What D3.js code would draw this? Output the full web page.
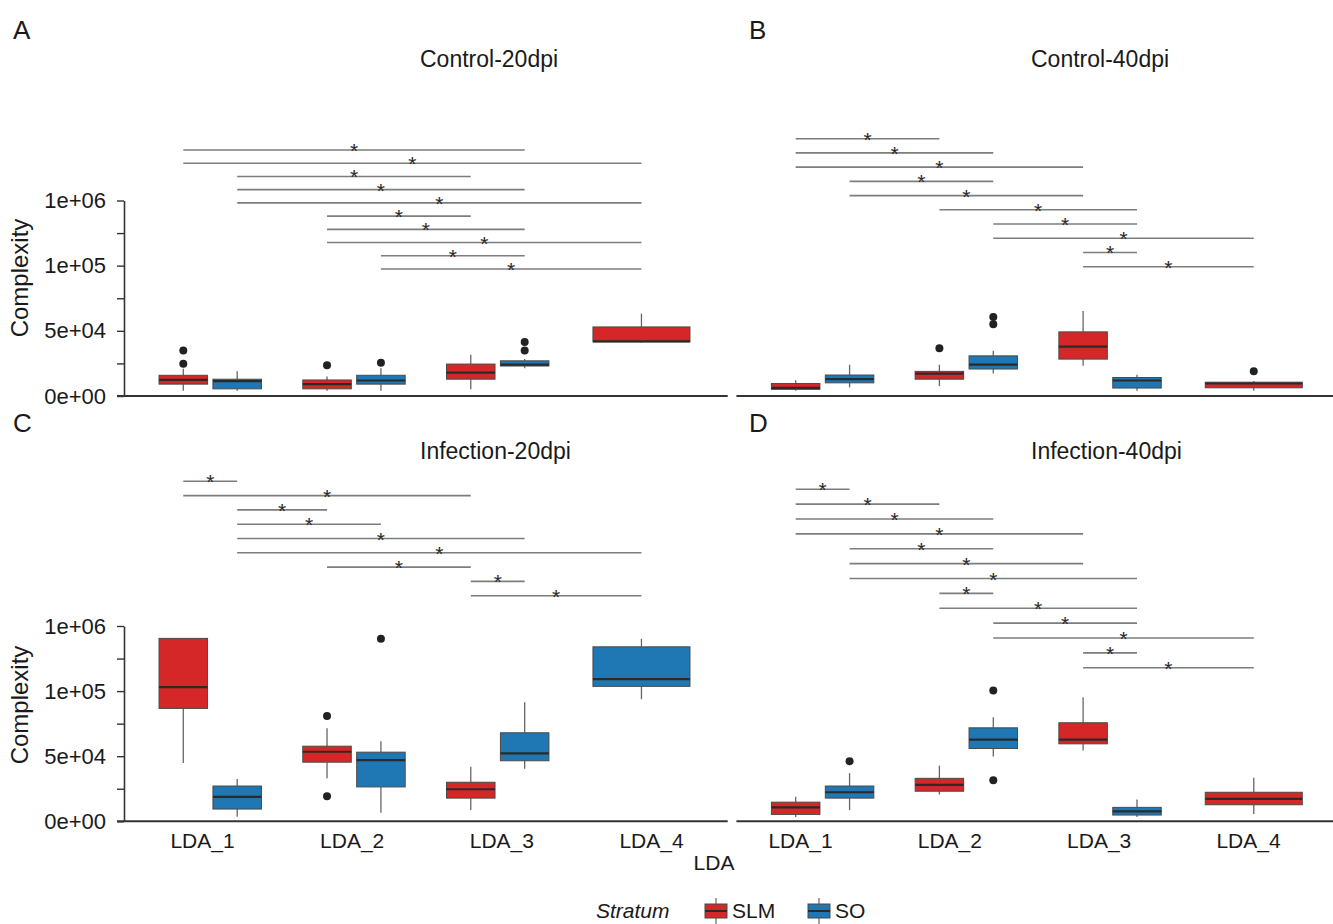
<!DOCTYPE html>
<html>
<head>
<meta charset="utf-8">
<script src="https://cdn.jsdelivr.net/npm/d3@7"></script>
<style>
  body { margin: 0; background: #fff; }
  svg { font-family: "Liberation Sans", Arial, sans-serif; }
</style>
</head>
<body>
<svg id="chart"></svg>
<script>
const width = 1333;
const height = 924;

// categories
const ldaGroups = ["LDA_1", "LDA_2", "LDA_3", "LDA_4"];
const strata = ["SLM", "SO"];
const strataColors = ["#d62728", "#1f77b4"];

// y axis breaks (the figure uses an uneven, piecewise axis)
const yBreaks = [0, 5e4, 1e5, 1e6];
const yTickValues = [0, 25000, 50000, 75000, 100000, 550000, 1000000];
const yTickLabels = ["0e+00", "", "5e+04", "", "1e+05", "", "1e+06"];

// box statistics: lower whisker, q1, median, q3, upper whisker, outliers
const boxesA = [
    { lda: "LDA_1", stratum: "SLM", lw: 4000, q1: 9100, med: 12300, q3: 15900, uw: 21000, out: [24800, 34900] },
    { lda: "LDA_1", stratum: "SO", lw: 4000, q1: 5500, med: 11400, q3: 12900, uw: 18900, out: [] },
    { lda: "LDA_2", stratum: "SLM", lw: 4000, q1: 5500, med: 9100, q3: 12300, uw: 14900, out: [23500] },
    { lda: "LDA_2", stratum: "SO", lw: 4000, q1: 9100, med: 11900, q3: 15900, uw: 21200, out: [25500] },
    { lda: "LDA_3", stratum: "SLM", lw: 5100, q1: 12900, med: 18000, q3: 24500, uw: 31600, out: [] },
    { lda: "LDA_3", stratum: "SO", lw: 21200, q1: 23000, med: 24000, q3: 27000, uw: 28300, out: [34900, 41400] },
    { lda: "LDA_4", stratum: "SLM", lw: 41000, q1: 41600, med: 41900, q3: 53000, uw: 63200, out: [] }
];
const boxesB = [
    { lda: "LDA_1", stratum: "SLM", lw: 4000, q1: 5100, med: 6300, q3: 9600, uw: 12100, out: [] },
    { lda: "LDA_1", stratum: "SO", lw: 6600, q1: 10100, med: 12900, q3: 16100, uw: 24000, out: [] },
    { lda: "LDA_2", stratum: "SLM", lw: 7600, q1: 12900, med: 17200, q3: 18900, uw: 24000, out: [36600] },
    { lda: "LDA_2", stratum: "SO", lw: 17200, q1: 20700, med: 24000, q3: 30800, uw: 34800, out: [55100, 60700] },
    { lda: "LDA_3", stratum: "SLM", lw: 23300, q1: 28300, med: 37900, q3: 49200, uw: 65300, out: [] },
    { lda: "LDA_3", stratum: "SO", lw: 4000, q1: 6100, med: 11900, q3: 14200, uw: 16400, out: [] },
    { lda: "LDA_4", stratum: "SLM", lw: 4000, q1: 6300, med: 9600, q3: 10600, uw: 11600, out: [18900] }
];
const boxesC = [
    { lda: "LDA_1", stratum: "SLM", lw: 44700, q1: 86700, med: 155600, q3: 828900, uw: 828900, out: [] },
    { lda: "LDA_1", stratum: "SO", lw: 3500, q1: 9400, med: 18800, q3: 27100, uw: 32500, out: [] },
    { lda: "LDA_2", stratum: "SLM", lw: 33000, q1: 45400, med: 53400, q3: 57700, uw: 71500, out: [19300, 80800] },
    { lda: "LDA_2", stratum: "SO", lw: 6600, q1: 26400, med: 47000, q3: 53100, uw: 61500, out: [823300] },
    { lda: "LDA_3", stratum: "SLM", lw: 8600, q1: 17800, med: 24600, q3: 30000, uw: 41900, out: [] },
    { lda: "LDA_3", stratum: "SO", lw: 40400, q1: 46500, med: 52100, q3: 68000, uw: 91500, out: [] },
    { lda: "LDA_4", stratum: "SO", lw: 93800, q1: 165400, med: 266900, q3: 712000, uw: 823300, out: [] }
];
const boxesD = [
    { lda: "LDA_1", stratum: "SLM", lw: 3300, q1: 5300, med: 10700, q3: 14700, uw: 18800, out: [] },
    { lda: "LDA_1", stratum: "SO", lw: 8600, q1: 17800, med: 22300, q3: 27100, uw: 37000, out: [46200] },
    { lda: "LDA_2", stratum: "SLM", lw: 20600, q1: 23100, med: 27900, q3: 33000, uw: 42700, out: [] },
    { lda: "LDA_2", stratum: "SO", lw: 49800, q1: 55900, med: 62800, q3: 71800, uw: 80000, out: [31500, 109700] },
    { lda: "LDA_3", stratum: "SLM", lw: 54400, q1: 59500, med: 62800, q3: 75700, uw: 95200, out: [] },
    { lda: "LDA_3", stratum: "SO", lw: 3300, q1: 4800, med: 7600, q3: 10700, uw: 16800, out: [] },
    { lda: "LDA_4", stratum: "SLM", lw: 5600, q1: 12700, med: 17200, q3: 22300, uw: 33500, out: [] }
];

// significance brackets (top to bottom), "group/stratum" pairs
const bracketsA = [
    ["LDA_1/SLM", "LDA_3/SO"], ["LDA_1/SLM", "LDA_4/SLM"], ["LDA_1/SO", "LDA_3/SLM"], ["LDA_1/SO", "LDA_3/SO"],
    ["LDA_1/SO", "LDA_4/SLM"], ["LDA_2/SLM", "LDA_3/SLM"], ["LDA_2/SLM", "LDA_3/SO"], ["LDA_2/SLM", "LDA_4/SLM"],
    ["LDA_2/SO", "LDA_3/SO"], ["LDA_2/SO", "LDA_4/SLM"]
];
const bracketsB = [
    ["LDA_1/SLM", "LDA_2/SLM"], ["LDA_1/SLM", "LDA_2/SO"], ["LDA_1/SLM", "LDA_3/SLM"], ["LDA_1/SO", "LDA_2/SO"],
    ["LDA_1/SO", "LDA_3/SLM"], ["LDA_2/SLM", "LDA_3/SO"], ["LDA_2/SO", "LDA_3/SO"], ["LDA_2/SO", "LDA_4/SLM"],
    ["LDA_3/SLM", "LDA_3/SO"], ["LDA_3/SLM", "LDA_4/SLM"]
];
const bracketsC = [
    ["LDA_1/SLM", "LDA_1/SO"], ["LDA_1/SLM", "LDA_3/SLM"], ["LDA_1/SO", "LDA_2/SLM"], ["LDA_1/SO", "LDA_2/SO"],
    ["LDA_1/SO", "LDA_3/SO"], ["LDA_1/SO", "LDA_4/SO"], ["LDA_2/SLM", "LDA_3/SLM"], ["LDA_3/SLM", "LDA_3/SO"],
    ["LDA_3/SLM", "LDA_4/SO"]
];
const bracketsD = [
    ["LDA_1/SLM", "LDA_1/SO"], ["LDA_1/SLM", "LDA_2/SLM"], ["LDA_1/SLM", "LDA_2/SO"], ["LDA_1/SLM", "LDA_3/SLM"],
    ["LDA_1/SO", "LDA_2/SO"], ["LDA_1/SO", "LDA_3/SLM"], ["LDA_1/SO", "LDA_3/SO"], ["LDA_2/SLM", "LDA_2/SO"],
    ["LDA_2/SLM", "LDA_3/SO"], ["LDA_2/SO", "LDA_3/SO"], ["LDA_2/SO", "LDA_4/SLM"], ["LDA_3/SLM", "LDA_3/SO"],
    ["LDA_3/SLM", "LDA_4/SLM"]
];

// panel layout
const panels = [
    { letter: "A", title: "Control-20dpi", boxes: boxesA, brackets: bracketsA, x0: 124, x1: 727.7, yBottom: 396, yTop: 200.5,
      labelRange: [202, 651], brTop: 150, brBottom: 269, letterX: 13, letterY: 39, titleX: 420, titleY: 67, yAxis: true, xLabels: false, yTitleY: 278 },
    { letter: "B", title: "Control-40dpi", boxes: boxesB, brackets: bracketsB, x0: 736.4, x1: 1340, yBottom: 396, yTop: 200.5,
      labelRange: [800, 1248], brTop: 138.7, brBottom: 266.7, letterX: 749, letterY: 39, titleX: 1031, titleY: 67, yAxis: false, xLabels: false },
    { letter: "C", title: "Infection-20dpi", boxes: boxesC, brackets: bracketsC, x0: 124, x1: 727.7, yBottom: 821.3, yTop: 626,
      labelRange: [202, 651], brTop: 481.3, brBottom: 595.7, letterX: 13, letterY: 432, titleX: 420, titleY: 459, yAxis: true, xLabels: true, yTitleY: 705 },
    { letter: "D", title: "Infection-40dpi", boxes: boxesD, brackets: bracketsD, x0: 736.4, x1: 1340, yBottom: 821.3, yTop: 626,
      labelRange: [800, 1248], brTop: 489.3, brBottom: 667.7, letterX: 749, letterY: 432, titleX: 1031, titleY: 459, yAxis: false, xLabels: true }
];

const svg = d3.select("#chart").attr("width", width).attr("height", height);
const color = d3.scaleOrdinal().domain(strata).range(strataColors);

panels.forEach(p => {
    const g = svg.append("g");
    const h = p.yBottom - p.yTop;
    const y = d3.scaleLinear().domain(yBreaks).range([p.yBottom, p.yBottom - h / 3, p.yBottom - 2 * h / 3, p.yTop]);
    const x = d3.scalePoint().domain(ldaGroups).range([p.x0, p.x1]).padding(0.6);
    const xLabel = d3.scalePoint().domain(ldaGroups).range(p.labelRange);
    const dodge = x.step() * 0.75;

    // where each box sits
    const slot = {};
    p.boxes.forEach(b => {
        const same = p.boxes.filter(o => o.lda === b.lda);
        const idx = same.indexOf(b);
        b.cx = same.length === 1 ? x(b.lda) : x(b.lda) + (idx - 0.5) * dodge / 2;
        b.w = same.length === 1 ? dodge * 0.9 : dodge / 2 * 0.9;
        slot[b.lda + "/" + b.stratum] = b.cx;
    });

    g.append("text").attr("x", p.letterX).attr("y", p.letterY).attr("font-size", 26).attr("fill", "#1a1a1a").text(p.letter);
    g.append("text").attr("x", p.titleX).attr("y", p.titleY).attr("font-size", 23).attr("fill", "#1a1a1a").text(p.title);

    // y axis
    if (p.yAxis) {
        const ax = g.append("g").attr("transform", `translate(${p.x0},0)`)
            .call(d3.axisLeft(y).tickValues(yTickValues).tickFormat((d, i) => yTickLabels[i]).tickSize(7).tickSizeOuter(0).tickPadding(11));
        ax.select(".domain").attr("stroke", "#333").attr("stroke-width", 1.6);
        ax.selectAll(".tick line").attr("stroke", "#333").attr("stroke-width", 1.4);
        ax.selectAll(".tick text").attr("font-size", 22).attr("fill", "#1a1a1a").attr("font-family", "Liberation Sans, Arial, sans-serif");
        g.append("text").attr("transform", `translate(28,${p.yTitleY}) rotate(-90)`).attr("text-anchor", "middle")
            .attr("font-size", 24).attr("fill", "#1a1a1a").text("Complexity");
    }

    // x axis line and labels
    g.append("line").attr("x1", p.yAxis ? p.x0 - 7 : p.x0).attr("x2", Math.min(p.x1, width)).attr("y1", p.yBottom).attr("y2", p.yBottom)
        .attr("stroke", "#333").attr("stroke-width", 2);
    if (p.xLabels) {
        const xa = g.append("g").attr("transform", `translate(0,${p.yBottom})`).call(d3.axisBottom(xLabel).tickSize(0).tickPadding(12));
        xa.select(".domain").remove();
        xa.selectAll(".tick text").attr("font-size", 21).attr("fill", "#1a1a1a").attr("font-family", "Liberation Sans, Arial, sans-serif");
    }

    // boxes
    const bx = g.selectAll(".box").data(p.boxes).enter().append("g").attr("class", "box");
    bx.append("line").attr("x1", d => d.cx).attr("x2", d => d.cx).attr("y1", d => y(d.uw)).attr("y2", d => y(d.q3))
        .attr("stroke", "#666").attr("stroke-width", 1.3);
    bx.append("line").attr("x1", d => d.cx).attr("x2", d => d.cx).attr("y1", d => y(d.q1)).attr("y2", d => y(d.lw))
        .attr("stroke", "#666").attr("stroke-width", 1.3);
    bx.append("rect").attr("x", d => d.cx - d.w / 2).attr("width", d => d.w)
        .attr("y", d => y(d.q3)).attr("height", d => y(d.q1) - y(d.q3))
        .attr("fill", d => color(d.stratum)).attr("stroke", "#4a4a4a").attr("stroke-width", 1);
    bx.append("line").attr("x1", d => d.cx - d.w / 2).attr("x2", d => d.cx + d.w / 2).attr("y1", d => y(d.med)).attr("y2", d => y(d.med))
        .attr("stroke", "#2a2a2a").attr("stroke-width", 2.2);
    bx.selectAll(".outlier").data(d => d.out.map(v => ({ cx: d.cx, v }))).enter().append("circle")
        .attr("cx", d => d.cx).attr("cy", d => y(d.v)).attr("r", 4).attr("fill", "#222");

    // significance brackets
    const row = d3.scaleLinear().domain([0, p.brackets.length - 1]).range([p.brTop, p.brBottom]);
    p.brackets.forEach((b, i) => {
        const xa = slot[b[0]], xb = slot[b[1]];
        g.append("line").attr("x1", xa).attr("x2", xb).attr("y1", row(i)).attr("y2", row(i))
            .attr("stroke", "#7d7d7d").attr("stroke-width", 1.6);
        g.append("text").attr("x", (xa + xb) / 2).attr("y", row(i) + 8).attr("text-anchor", "middle")
            .attr("font-size", 21).attr("fill", "#2a2a2a").text("*");
    });
});

// x title
svg.append("text").attr("x", 714).attr("y", 870).attr("text-anchor", "middle").attr("font-size", 21).attr("fill", "#1a1a1a").text("LDA");

// legend
const legend = svg.append("g");
legend.append("text").attr("x", 596).attr("y", 918).attr("font-size", 21).attr("font-style", "italic").attr("fill", "#1a1a1a").text("Stratum");
const legendX = [705, 808];
strata.forEach((s, i) => {
    const lg = legend.append("g").attr("transform", `translate(${legendX[i]},0)`);
    lg.append("line").attr("x1", 11).attr("x2", 11).attr("y1", 898).attr("y2", 924).attr("stroke", "#666").attr("stroke-width", 1.2);
    lg.append("rect").attr("x", 0).attr("y", 904).attr("width", 22).attr("height", 14).attr("fill", color(s)).attr("stroke", "#4a4a4a");
    lg.append("line").attr("x1", 0).attr("x2", 22).attr("y1", 911).attr("y2", 911).attr("stroke", "#2a2a2a").attr("stroke-width", 2);
    lg.append("text").attr("x", 27).attr("y", 918).attr("font-size", 21).attr("fill", "#1a1a1a").text(s);
});
</script>
</body>
</html>
